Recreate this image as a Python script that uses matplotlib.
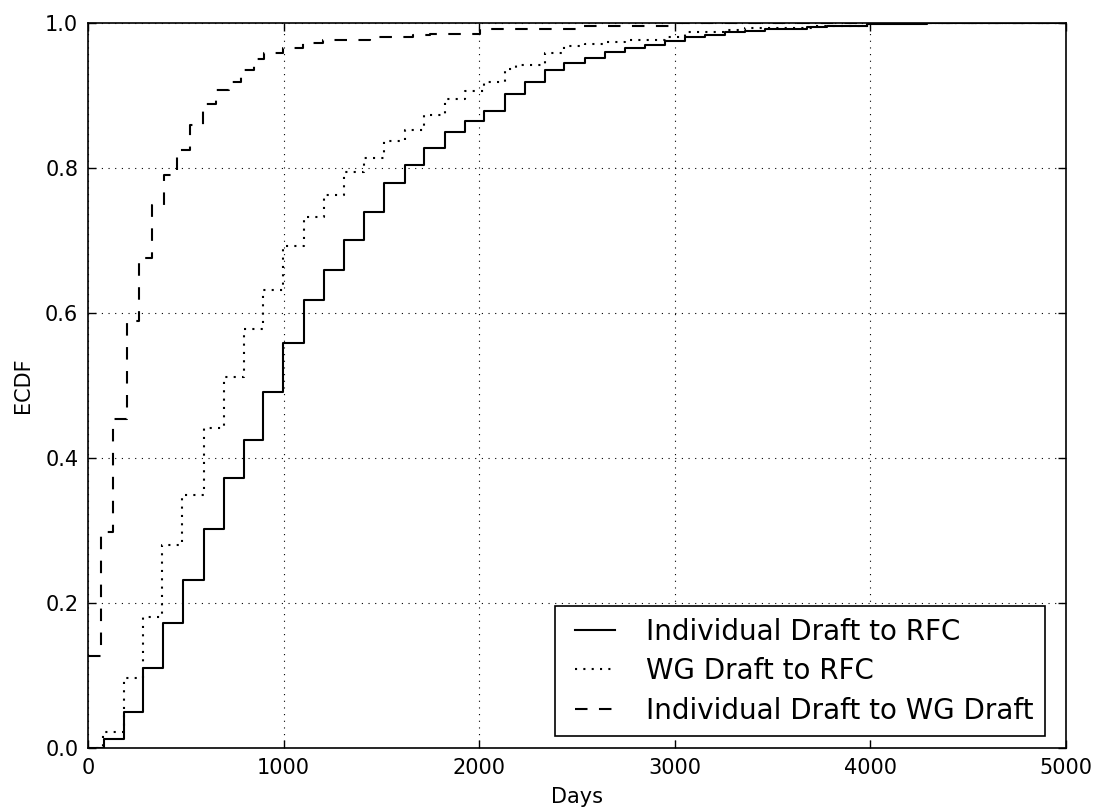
import numpy as np
import matplotlib
matplotlib.use('Agg')
import matplotlib.pyplot as plt
from matplotlib.lines import Line2D
from matplotlib.legend_handler import HandlerLine2D

# ECDF STEPS (days, cumulative fraction)
ind_rfc_days = [0, 82, 182, 283, 385, 486, 595, 695, 796, 896, 999, 1106, 1207, 1309,
                1409, 1513, 1621, 1720, 1826, 1925, 2025, 2134, 2236, 2337, 2436, 2541,
                2643, 2746, 2848, 2950, 3052, 3154, 3256, 3358, 3460, 3675, 3777, 3982,
                4289, 5000]
ind_rfc_ecdf = [0.0, 0.012, 0.049, 0.111, 0.173, 0.232, 0.302, 0.372, 0.425, 0.491, 0.559,
                0.618, 0.660, 0.701, 0.740, 0.779, 0.804, 0.828, 0.850, 0.865, 0.879, 0.902,
                0.918, 0.935, 0.945, 0.952, 0.960, 0.965, 0.970, 0.975, 0.981, 0.983, 0.987,
                0.989, 0.992, 0.995, 0.996, 0.998, 1.0, 1.0]

wg_rfc_days = [0, 79, 182, 283, 380, 481, 593, 695, 796, 896, 999, 1104, 1207, 1308, 1409,
               1513, 1621, 1720, 1826, 1925, 2025, 2134, 2186, 2337, 2436, 2541, 2643, 2746,
               2950, 3052, 3256, 3358, 3700, 4000, 5000]
wg_rfc_ecdf = [0.0, 0.022, 0.096, 0.181, 0.280, 0.349, 0.441, 0.512, 0.578, 0.632, 0.693,
               0.733, 0.763, 0.795, 0.814, 0.837, 0.853, 0.873, 0.895, 0.906, 0.918, 0.936,
               0.942, 0.959, 0.968, 0.971, 0.974, 0.977, 0.981, 0.987, 0.990, 0.993, 0.996,
               1.0, 1.0]

ind_wg_days = [0, 66, 130, 198, 262, 326, 390, 457, 521, 586, 654, 719, 782, 849, 900, 999,
               1101, 1200, 1442, 1663, 1750, 2002, 2500, 2990, 5000]
ind_wg_ecdf = [0.127, 0.298, 0.454, 0.589, 0.676, 0.749, 0.790, 0.825, 0.859, 0.888, 0.908,
               0.919, 0.935, 0.951, 0.958, 0.966, 0.973, 0.977, 0.981, 0.983, 0.985, 0.992,
               0.996, 1.0, 1.0]

labels = ['Individual Draft to RFC', 'WG Draft to RFC', 'Individual Draft to WG Draft']

plt.rcParams['font.family'] = 'DejaVu Sans'

fig = plt.figure(figsize=(10.97, 8.09), dpi=100)
ax = fig.add_axes([88 / 1097, 61 / 809, 978 / 1097, 725 / 809])

ax.step(ind_rfc_days, ind_rfc_ecdf, where='post', color='k', lw=1.5, label=labels[0])
ax.step(wg_rfc_days, wg_rfc_ecdf, where='post', color='k', lw=1.5,
        linestyle=(0, (1, 3)), label=labels[1])
ax.step(ind_wg_days, ind_wg_ecdf, where='post', color='k', lw=1.5,
        linestyle=(0, (6, 5.5)), label=labels[2])

ax.set_xlim(0, 5000)
ax.set_ylim(0, 1.0)
ax.set_xticks(np.arange(0, 5001, 1000))
ax.set_yticks(np.arange(0, 1.01, 0.2))
ax.set_xlabel('Days', fontsize=15, labelpad=7)
ax.set_ylabel('ECDF', fontsize=15, labelpad=9)
ax.tick_params(direction='in', top=True, right=True, length=6, width=1,
               labelsize=15, pad=7)
ax.grid(True, color='k', linestyle=(0, (1, 5)), linewidth=0.8)
for sp in ax.spines.values():
    sp.set_linewidth(1.2)

# legend line is inset inside its handle box, like the old-style legend
leg = ax.legend(loc='lower right', bbox_to_anchor=(0.9785, 0.0166), borderaxespad=0,
                fontsize=20, numpoints=2, handlelength=2.1, handletextpad=0.8,
                labelspacing=0.42, borderpad=0.4, fancybox=False, framealpha=1,
                edgecolor='k', handler_map={Line2D: HandlerLine2D(marker_pad=0.33)})
leg.get_frame().set_linewidth(1.2)

fig.savefig('out.png', dpi=100, facecolor='white')
